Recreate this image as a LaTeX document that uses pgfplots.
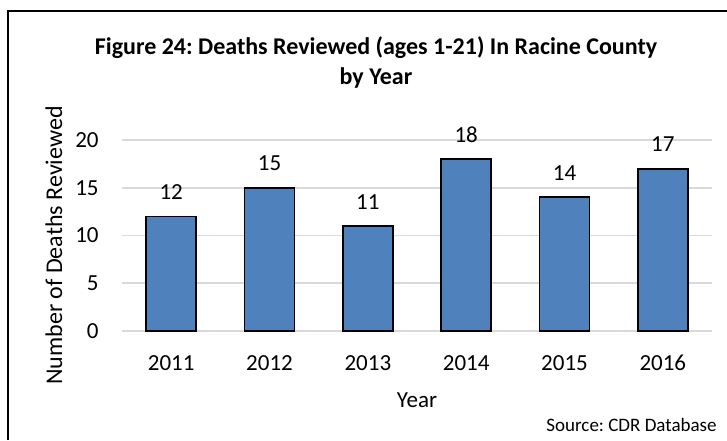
\documentclass[border=0pt]{standalone}
\usepackage{pgfplots}
\pgfplotsset{compat=1.18}
\usepackage{fontspec}
\setmainfont{Carlito}
\frenchspacing
\definecolor{barblue}{HTML}{4F81BD}
\definecolor{gridgray}{HTML}{D9D9D9}

\begin{document}
\begin{tikzpicture}[x=1pt,y=1pt]
\useasboundingbox (0,0) rectangle (363.5,220);
% chart frame (left and top edges)
\draw[line width=1pt] (4,0) -- (4,214.5) -- (363.5,214.5);
% title
\node[anchor=base, font=\fontsize{12}{14}\selectfont\bfseries] at (188,193)
  {Figure 24: Deaths Reviewed (ages 1-21) In Racine County};
\node[anchor=base, font=\fontsize{12}{14}\selectfont\bfseries] at (188,178) {by Year};
\begin{axis}[
  at={(61pt,54.5pt)}, anchor=south west,
  scale only axis, width=295pt, height=95.5pt,
  xmin=-0.5, xmax=5.5, ymin=0, ymax=20,
  xtick=data,
  xticklabels={2011,2012,2013,2014,2015,2016},
  ytick={0,5,10,15,20},
  major tick length=0pt,
  axis line style={draw=none},
  ymajorgrids,
  grid style={gridgray, line width=0.9pt},
  tick label style={font=\fontsize{11.5}{13}\selectfont},
  /pgf/number format/assume math mode=true,
  xticklabel style={anchor=base, inner sep=0pt, yshift=-19.5pt},
  yticklabel style={anchor=east, inner sep=0pt, xshift=-11.5pt},
  xlabel={Year},
  xlabel style={at={(axis description cs:0.5,0)}, anchor=base, yshift=-38pt, font=\fontsize{11.5}{13}\selectfont},
  ylabel={Number of Deaths Reviewed},
  % the label is rotated, so xshift runs along the text and yshift across it
  ylabel style={at={(axis description cs:0,0.5)}, anchor=center, xshift=-5pt, yshift=34pt, font=\fontsize{12}{14}\selectfont},
  ybar, bar width=25pt,
  nodes near coords,
  every node near coord/.append style={font=\fontsize{11.5}{13}\selectfont, anchor=south, inner sep=0pt, yshift=8pt, black},
]
\addplot[fill=barblue, draw=black, line width=0.9pt] coordinates {
  (0,12) (1,15) (2,11) (3,18) (4,14) (5,17)
};
\end{axis}
\node[anchor=base east, inner sep=0pt, font=\fontsize{9.5}{11}\selectfont] at (358.5,4.5) {Source: CDR Database};
\end{tikzpicture}
\end{document}
